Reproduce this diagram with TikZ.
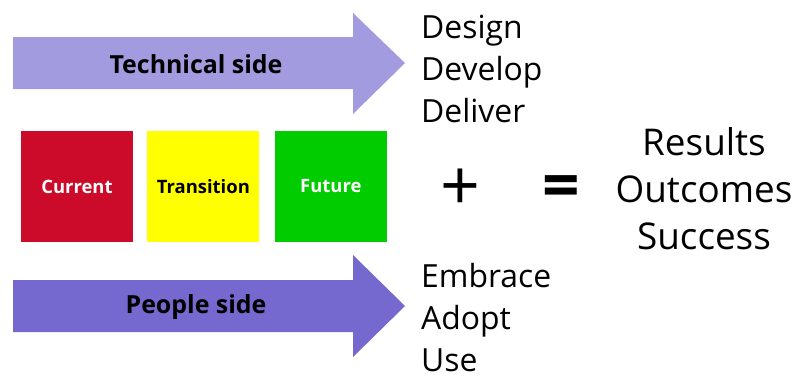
\documentclass[tikz,border=0pt]{standalone}
\usepackage{fontspec}
\setmainfont{Open Sans}
\usepackage{tikz}
\usetikzlibrary{positioning}

\definecolor{techcol}{HTML}{A29BE0}
\definecolor{peoplecol}{HTML}{7569CF}
\definecolor{curcol}{HTML}{CC0A2A}
\definecolor{trancol}{HTML}{FFFF00}
\definecolor{futcol}{HTML}{00CC00}

\tikzset{
    phase/.style={minimum width=112bp, minimum height=111bp, inner sep=0pt,
        font=\fontsize{18.5}{20}\selectfont\bfseries},
    arrowlabel/.style={font=\fontsize{25}{28}\selectfont\bfseries},
    wordlist/.style={align=left, anchor=base west, inner sep=0pt,
        font=\fontsize{32}{42}\selectfont},
    bigword/.style={inner sep=0pt, font=\fontsize{70}{70}\selectfont}
}

\begin{document}
\begin{tikzpicture}[x=1bp,y=-1bp]
    \useasboundingbox (0,0) rectangle (795,378);

    % block arrows
    \fill[techcol] (13,37) -- (353,37) -- (353,13) -- (405,63) -- (353,114) -- (353,89) -- (13,89) -- cycle;
    \fill[peoplecol] (13,280) -- (353,280) -- (353,255) -- (405,306) -- (353,357) -- (353,332) -- (13,332) -- cycle;
    \node[arrowlabel] (tech) at (196,64) {Technical side};
    \node[arrowlabel] (people) at (196,307) {People side};

    % phases
    \node[phase, fill=curcol, text=white] (current) at (77,186.5) {Current};
    \node[phase, fill=trancol, right=14bp of current] (transition) {Transition};
    \node[phase, fill=futcol, text=white, right=15bp of transition] (future) {Future};

    % outcomes (base = last line)
    \node[wordlist] (techwords) at (421,122) {Design\\Develop\\Deliver};
    \node[wordlist] (peoplewords) at (421,371) {Embrace\\Adopt\\Use};
    \node[bigword] (plus) at (460,190) {+};
    \node[bigword, font=\fontsize{66}{66}\selectfont\bfseries] (equals) at (561,192) {=};
    \node[align=center, anchor=base, inner sep=0pt, font=\fontsize{37}{47}\selectfont] (results) at (704,249) {Results\\Outcomes\\Success};
\end{tikzpicture}
\end{document}
